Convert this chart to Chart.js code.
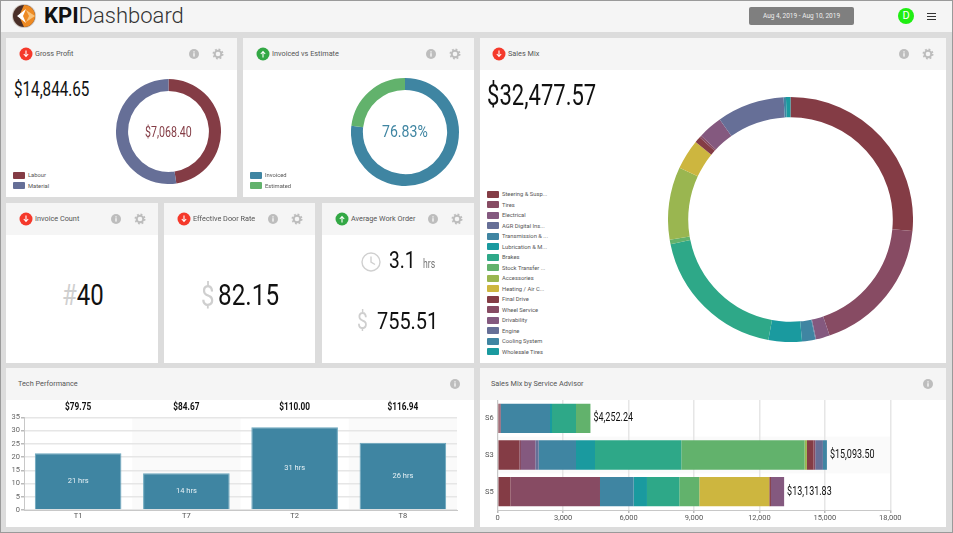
<!DOCTYPE html>
<html>
<head>
<meta charset="utf-8">
<title>KPI Dashboard</title>
<script src="https://cdn.jsdelivr.net/npm/chart.js@4/dist/chart.umd.min.js"></script>
<style>
  html, body { margin: 0; padding: 0; }
  body { width: 953px; height: 533px; background: #dcdcdc; overflow: hidden; position: relative; font-family: Roboto, sans-serif; }
  #frame { position: absolute; left: 0; top: 0; width: 951px; height: 531px; border: 1px solid #9a9a9a; pointer-events: none; z-index: 5; }
  #topbar { position: absolute; left: 0; top: 0; width: 953px; height: 32px; background: #f5f5f5; }
  #brand { position: absolute; left: 44px; top: 2px; font-size: 22px; line-height: 28px; color: #333; font-weight: 300; }
  #brand b { font-weight: 700; color: #111; }
  #dates { position: absolute; left: 749px; top: 7px; width: 105px; height: 18px; background: #7f7f7f; border-radius: 2px; color: #eee; font-size: 6.5px; line-height: 18px; text-align: center; }
  #avatar { position: absolute; left: 898px; top: 8px; width: 16px; height: 16px; border-radius: 50%; background: #1fee12; color: #fff; font-size: 11px; line-height: 16px; text-align: center; }
  #burger { position: absolute; left: 927px; top: 13px; width: 9px; height: 7px; border-top: 1.5px solid #333; border-bottom: 1.5px solid #333; box-sizing: border-box; }
  #burger:before { content: ""; position: absolute; left: 0; right: 0; top: 1.5px; height: 1.5px; background: #333; }
  .panel { position: absolute; background: #fff; overflow: hidden; }
  .head { position: absolute; left: 0; top: 0; right: 0; height: 32px; background: #f5f5f5; }
  .title { position: absolute; top: 0; line-height: 32px; font-size: 7.3px; color: #555; white-space: nowrap; }
  .ico { position: absolute; top: 9px; width: 14px; height: 14px; }
  .num { position: absolute; white-space: nowrap; color: #111; line-height: 1; transform-origin: 0 50%; transform: scaleX(0.8); }
  .faint { color: #cfcfcf; }
  canvas { position: absolute; display: block; }
  .legend { position: absolute; left: 7px; font-size: 5.8px; color: #555; }
  .legend div { position: relative; height: 10.5px; line-height: 10.5px; padding-left: 15px; white-space: nowrap; }
  .legend i { position: absolute; left: 0; top: 1.5px; width: 12px; height: 7px; border-radius: 1px; }
</style>
</head>
<body>
<svg width="0" height="0" style="position:absolute">
  <symbol id="down" viewBox="0 0 14 14"><circle cx="7" cy="7" r="6.5" fill="#f5392b"/><path d="M7 3.5V9M4.8 7 7 9.5 9.2 7" stroke="#fff" stroke-width="1.1" fill="none"/></symbol>
  <symbol id="up" viewBox="0 0 14 14"><circle cx="7" cy="7" r="6.5" fill="#33a845"/><path d="M7 10.5V5M4.8 7 7 4.5 9.2 7" stroke="#fff" stroke-width="1.1" fill="none"/></symbol>
  <symbol id="info" viewBox="0 0 14 14"><circle cx="7" cy="7" r="5" fill="#bdbdbd"/><rect x="6.4" y="6.2" width="1.2" height="3.4" fill="#fff"/><rect x="6.4" y="4.3" width="1.2" height="1.2" fill="#fff"/></symbol>
  <symbol id="gear" viewBox="0 0 14 14"><circle cx="7" cy="7" r="3.3" fill="none" stroke="#bdbdbd" stroke-width="2"/><circle cx="7" cy="7" r="4.7" fill="none" stroke="#bdbdbd" stroke-width="1.6" stroke-dasharray="1.85 1.84"/></symbol>
</svg>

<div id="topbar">
  <svg style="position:absolute;left:12px;top:4px" width="24" height="24" viewBox="0 0 24 24">
    <circle cx="12" cy="12" r="12" fill="#cfc8c2"/>
    <circle cx="12" cy="12" r="11" fill="#4a2f28"/>
    <path d="M12 1A11 11 0 0 1 12 23L7 12Z" fill="#ee8a22"/>
    <path d="M23 12 14 6 17 12 14 18Z" fill="#f9c27a"/>
    <path d="M14 5 5 12 14 19 11 12Z" fill="#fff"/>
  </svg>
  <div id="brand"><b>KPI</b>Dashboard</div>
  <div id="dates">Aug 4, 2019 - Aug 10, 2019</div>
  <div id="avatar">D</div>
  <div id="burger"></div>
</div>

<div class="panel" style="left:6px;top:38px;width:231px;height:159px">
  <div class="head">
    <svg class="ico" style="left:13px"><use href="#down"/></svg>
    <div class="title" style="left:29px">Gross Profit</div>
    <svg class="ico" style="left:181px"><use href="#info"/></svg>
    <svg class="ico" style="left:205px"><use href="#gear"/></svg>
  </div>
  <div class="num" style="left:8px;top:41px;font-size:20px;transform:scaleX(0.76)">$14,844.65</div>
  <canvas id="profitChart" style="left:110px;top:41px"></canvas>
  <div class="num" style="left:139px;top:87px;font-size:14px;color:#843c45;transform:scaleX(0.76)">$7,068.40</div>
  <div class="legend" id="profitLegend" style="top:132px"></div>
</div>

<div class="panel" style="left:243px;top:38px;width:231px;height:159px">
  <div class="head">
    <svg class="ico" style="left:13px"><use href="#up"/></svg>
    <div class="title" style="left:29px">Invoiced vs Estimate</div>
    <svg class="ico" style="left:181px"><use href="#info"/></svg>
    <svg class="ico" style="left:205px"><use href="#gear"/></svg>
  </div>
  <canvas id="invoicedChart" style="left:108px;top:40px"></canvas>
  <div class="num" style="left:139px;top:85px;font-size:17px;color:#3f85a2;transform:scaleX(0.83)">76.83%</div>
  <div class="legend" id="invoicedLegend" style="top:132px"></div>
</div>

<div class="panel" style="left:480px;top:38px;width:466px;height:325px">
  <div class="head">
    <svg class="ico" style="left:12px"><use href="#down"/></svg>
    <div class="title" style="left:28px">Sales Mix</div>
    <svg class="ico" style="left:417px"><use href="#info"/></svg>
    <svg class="ico" style="left:441px"><use href="#gear"/></svg>
  </div>
  <div class="num" style="left:7px;top:43px;font-size:29px;transform:scaleX(0.76)">$32,477.57</div>
  <canvas id="mixChart" style="left:188px;top:59px"></canvas>
  <div class="legend" id="mixLegend" style="top:151px"></div>
</div>

<div class="panel" style="left:6px;top:203px;width:152px;height:160px">
  <div class="head">
    <svg class="ico" style="left:13px"><use href="#down"/></svg>
    <div class="title" style="left:29px">Invoice Count</div>
    <svg class="ico" style="left:103px"><use href="#info"/></svg>
    <svg class="ico" style="left:127px"><use href="#gear"/></svg>
  </div>
  <div class="num" style="left:56px;top:77px;font-size:30px"><span class="faint">#</span>40</div>
</div>

<div class="panel" style="left:164px;top:203px;width:151px;height:160px">
  <div class="head">
    <svg class="ico" style="left:13px"><use href="#down"/></svg>
    <div class="title" style="left:29px">Effective Door Rate</div>
    <svg class="ico" style="left:102px"><use href="#info"/></svg>
    <svg class="ico" style="left:126px"><use href="#gear"/></svg>
  </div>
  <div class="num faint" style="left:37px;top:78px;font-size:30px">$</div>
  <div class="num" style="left:54px;top:77px;font-size:30px;transform:scaleX(0.81)">82.15</div>
</div>

<div class="panel" style="left:322px;top:203px;width:152px;height:160px">
  <div class="head">
    <svg class="ico" style="left:13px"><use href="#up"/></svg>
    <div class="title" style="left:29px">Average Work Order</div>
    <svg class="ico" style="left:104px"><use href="#info"/></svg>
    <svg class="ico" style="left:128px"><use href="#gear"/></svg>
  </div>
  <svg style="position:absolute;left:39px;top:49px" width="20" height="20" viewBox="0 0 20 20">
    <circle cx="10" cy="10" r="9" fill="none" stroke="#d0d0d0" stroke-width="1.4"/>
    <path d="M10 4.5V10L14 12.5" fill="none" stroke="#d0d0d0" stroke-width="1.4"/>
  </svg>
  <div class="num" style="left:67px;top:45px;font-size:24px">3.1</div>
  <div class="num" style="left:101px;top:55px;font-size:12px;color:#777;transform:scaleX(0.72)">hrs</div>
  <div class="num faint" style="left:35px;top:106px;font-size:24px">$</div>
  <div class="num" style="left:55px;top:106px;font-size:24px;transform:scaleX(0.83)">755.51</div>
</div>

<div class="panel" style="left:6px;top:368px;width:468px;height:159px">
  <div class="head">
    <div class="title" style="left:12px">Tech Performance</div>
    <svg class="ico" style="left:442px"><use href="#info"/></svg>
  </div>
  <canvas id="techChart" style="left:0;top:32px"></canvas>
</div>

<div class="panel" style="left:480px;top:368px;width:466px;height:159px">
  <div class="head">
    <div class="title" style="left:11px">Sales Mix by Service Advisor</div>
    <svg class="ico" style="left:441px"><use href="#info"/></svg>
  </div>
  <canvas id="advisorChart" style="left:0;top:32px"></canvas>
</div>
<div id="frame"></div>

<script>
  // Palette repeats after ten entries, same as the legend on the page
  const palette = ["#843c45", "#874b63", "#84597f", "#666f97", "#3f85a2", "#1a9a9f", "#2ea888", "#62b26c", "#9ab650", "#cdb63f"];

  const profitLabels = ["Labour", "Material"];
  const profitValues = [7068.40, 7776.25];
  const profitColors = ["#843c45", "#666f97"];

  const invoicedLabels = ["Invoiced", "Estimated"];
  const invoicedValues = [76.83, 23.17];
  const invoicedColors = ["#3f85a2", "#62b26c"];

  const mixLabels = ["Steering & Susp...", "Tires", "Electrical", "AGR Digital Ins...", "Transmission & ...", "Lubrication & M...", "Brakes", "Stock Transfer ...", "Accessories", "Heating / Air C...", "Final Drive", "Wheel Service", "Drivability", "Engine", "Cooling System", "Wholesale Tires"];
  const mixValues = [8610, 5950, 590, 30, 570, 1430, 6130, 190, 3110, 1290, 260, 95, 1040, 2890, 100, 193];
  const mixColors = mixLabels.map((_, i) => palette[i % palette.length]);

  const techNames = ["T1", "T7", "T2", "T8"];
  const techHours = [21.4, 13.9, 31.2, 25.4];
  const techHourLabels = ["21 hrs", "14 hrs", "31 hrs", "26 hrs"];
  const techRates = ["$79.75", "$84.67", "$110.00", "$116.94"];
  const techTicks = [0, 5, 10, 15, 20, 25, 30, 35];

  const advisors = ["S6", "S3", "S5"];
  const advisorTotals = ["$4,252.24", "$15,093.50", "$13,131.83"];
  const steeringSales = [76, 993, 580];
  const tiresSales = [60, 76, 4110];
  const electricalSales = [0, 657, 0];
  const agrSales = [0, 153, 0];
  const transmissionSales = [2262, 1711, 1543];
  const lubricationSales = [92, 871, 611];
  const brakesSales = [1100, 3958, 1482];
  const stockSales = [662, 5651.5, 917];
  const accessoriesSales = [0, 107, 0];
  const heatingSales = [0, 0, 3209];
  const finalDriveSales = [0, 306, 76];
  const wheelSales = [0, 76, 0];
  const drivabilitySales = [0, 0, 604];
  const engineSales = [0, 351, 0];
  const coolingSales = [0, 183, 0];

  const tickFont = { family: "Roboto, sans-serif", size: 7.5 };

  Chart.defaults.animation = false;
  Chart.defaults.plugins.legend.display = false;
  Chart.defaults.plugins.tooltip.enabled = false;

  // html legends, chart.js can't place these where the page has them
  function buildLegend(id, labels, colors) {
    const box = document.getElementById(id);
    labels.forEach((label, i) => {
      const row = document.createElement("div");
      row.innerHTML = '<i style="background:' + colors[i] + '"></i>' + label;
      box.appendChild(row);
    });
  }
  buildLegend("profitLegend", profitLabels, profitColors);
  buildLegend("invoicedLegend", invoicedLabels, invoicedColors);
  buildLegend("mixLegend", mixLabels, mixColors);

  function sizeCanvas(id, w, h) {
    const canvas = document.getElementById(id);
    canvas.width = w;
    canvas.height = h;
    canvas.style.width = w + "px";
    canvas.style.height = h + "px";
    return canvas;
  }

  function drawDoughnut(id, size, cutout, labels, values, colors) {
    return new Chart(sizeCanvas(id, size, size), {
      type: "doughnut",
      data: { labels: labels, datasets: [{ data: values, backgroundColor: colors, borderWidth: 0 }] },
      options: { responsive: false, cutout: cutout, layout: { padding: 0 } }
    });
  }
  drawDoughnut("profitChart", 105, "77%", profitLabels, profitValues, profitColors);
  drawDoughnut("invoicedChart", 108, "78%", invoicedLabels, invoicedValues, invoicedColors);
  drawDoughnut("mixChart", 245, "83.5%", mixLabels, mixValues, mixColors);

  // No condensed font on the box, so squeeze the text horizontally
  function fillNarrow(ctx, text, x, y, squeeze, align) {
    ctx.save();
    ctx.translate(x, y);
    ctx.scale(squeeze, 1);
    ctx.textAlign = align;
    ctx.textBaseline = "middle";
    ctx.fillText(text, 0, 0);
    ctx.restore();
  }

  // Lighter band behind every second category
  const bandPlugin = {
    id: "bands",
    beforeDraw(chart) {
      const { ctx, chartArea } = chart;
      const horizontal = chart.options.indexAxis === "y";
      const scale = horizontal ? chart.scales.y : chart.scales.x;
      const step = (horizontal ? chartArea.height : chartArea.width) / scale.ticks.length;
      ctx.save();
      ctx.fillStyle = "#fafafa";
      scale.ticks.forEach((t, i) => {
        if (i % 2 === 0) return;
        const mid = scale.getPixelForValue(i);
        if (horizontal) ctx.fillRect(chartArea.left, mid - step / 2, chartArea.width, step);
        else ctx.fillRect(mid - step / 2, chartArea.top, step, chartArea.height);
      });
      ctx.restore();
    }
  };

  const techLabelPlugin = {
    id: "techLabels",
    afterDatasetsDraw(chart) {
      const { ctx, chartArea } = chart;
      const bars = chart.getDatasetMeta(0).data;
      ctx.save();
      bars.forEach((bar, i) => {
        ctx.font = "7.5px Roboto, sans-serif";
        ctx.fillStyle = "#e8f2f6";
        fillNarrow(ctx, techHourLabels[i], bar.x, (bar.y + bar.base) / 2, 1, "center");
        ctx.font = "bold 11.5px Roboto, sans-serif";
        ctx.fillStyle = "#111";
        fillNarrow(ctx, techRates[i], bar.x, chartArea.top - 10.5, 0.72, "center");
      });
      ctx.restore();
    }
  };

  new Chart(sizeCanvas("techChart", 468, 127), {
    type: "bar",
    data: {
      labels: techNames,
      datasets: [{ data: techHours, backgroundColor: "#3f85a2", borderColor: "#6aa6bd", borderWidth: 1, barPercentage: 0.8, categoryPercentage: 1 }]
    },
    options: {
      responsive: false,
      layout: { padding: { top: 17.3, right: 17, left: 0, bottom: 0 } },
      scales: {
        x: {
          grid: { display: false, drawTicks: false },
          border: { color: "#c8c8c8", width: 1 },
          ticks: { font: tickFont, color: "#555", padding: 2, maxRotation: 0 },
          afterFit(scale) { scale.height = 17; }
        },
        y: {
          min: 0,
          max: 35,
          afterBuildTicks(scale) { scale.ticks = techTicks.map((v) => ({ value: v })); },
          grid: { color: "#e6e6e6", lineWidth: 1.5, tickLength: 3, tickColor: "#bbb" },
          border: { color: "#c8c8c8", width: 1 },
          ticks: { font: tickFont, color: "#666", padding: 1 },
          afterFit(scale) { scale.width = 18; }
        }
      }
    },
    plugins: [bandPlugin, techLabelPlugin]
  });

  const totalLabelPlugin = {
    id: "totalLabels",
    afterDatasetsDraw(chart) {
      const { ctx } = chart;
      const metas = chart.getSortedVisibleDatasetMetas();
      ctx.save();
      ctx.font = "12.5px Roboto, sans-serif";
      ctx.fillStyle = "#111";
      advisors.forEach((name, i) => {
        const right = Math.max.apply(null, metas.map((m) => m.data[i].x));
        fillNarrow(ctx, advisorTotals[i], right + 3, metas[0].data[i].y, 0.72, "left");
      });
      ctx.restore();
    }
  };

  const advisorSeries = [
    { label: "Steering & Susp...", data: steeringSales, backgroundColor: palette[0] },
    { label: "Tires", data: tiresSales, backgroundColor: palette[1] },
    { label: "Electrical", data: electricalSales, backgroundColor: palette[2] },
    { label: "AGR Digital Ins...", data: agrSales, backgroundColor: palette[3] },
    { label: "Transmission & ...", data: transmissionSales, backgroundColor: palette[4] },
    { label: "Lubrication & M...", data: lubricationSales, backgroundColor: palette[5] },
    { label: "Brakes", data: brakesSales, backgroundColor: palette[6] },
    { label: "Stock Transfer ...", data: stockSales, backgroundColor: palette[7] },
    { label: "Accessories", data: accessoriesSales, backgroundColor: palette[8] },
    { label: "Heating / Air C...", data: heatingSales, backgroundColor: palette[9] },
    { label: "Final Drive", data: finalDriveSales, backgroundColor: palette[0] },
    { label: "Wheel Service", data: wheelSales, backgroundColor: palette[1] },
    { label: "Drivability", data: drivabilitySales, backgroundColor: palette[2] },
    { label: "Engine", data: engineSales, backgroundColor: palette[3] },
    { label: "Cooling System", data: coolingSales, backgroundColor: palette[4] }
  ];

  new Chart(sizeCanvas("advisorChart", 466, 127), {
    type: "bar",
    data: { labels: advisors, datasets: advisorSeries },
    options: {
      responsive: false,
      indexAxis: "y",
      barPercentage: 0.8,
      categoryPercentage: 1,
      layout: { padding: { top: 0, right: 55.7, left: 0, bottom: 0 } },
      scales: {
        x: {
          stacked: true,
          min: 0,
          max: 18000,
          grid: { color: "#e6e6e6", lineWidth: 1.5, tickLength: 3, tickColor: "#bbb" },
          border: { color: "#c8c8c8", width: 1 },
          ticks: { stepSize: 3000, font: tickFont, color: "#555", padding: 1, maxRotation: 0, callback: (v) => v.toLocaleString("en-US") },
          afterFit(scale) { scale.height = 17; }
        },
        y: {
          stacked: true,
          grid: { display: false, tickLength: 3 },
          border: { color: "#c8c8c8", width: 1 },
          ticks: { font: tickFont, color: "#555", padding: 1 },
          afterFit(scale) {
            scale.width = 17.7;
            scale.paddingTop = 0;
            scale.paddingBottom = 0;
          }
        }
      }
    },
    plugins: [bandPlugin, totalLabelPlugin]
  });
</script>
</body>
</html>
